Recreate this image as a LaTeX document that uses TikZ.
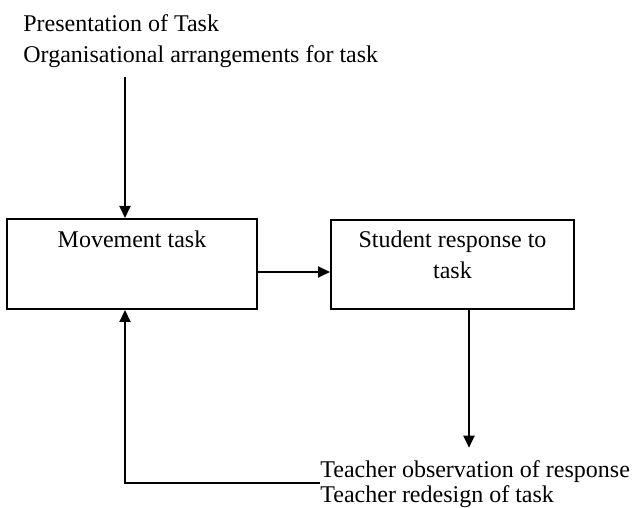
\documentclass[tikz,border=0pt]{standalone}
\usepackage{fontspec}
\setmainfont{Liberation Serif}
\usetikzlibrary{arrows.meta,positioning}

\begin{document}
\begin{tikzpicture}[
  x=0.5pt,y=-0.5pt,
  every node/.style={font=\fontsize{12pt}{15.5pt}\selectfont},
  box/.style={draw,line width=1pt,inner xsep=0pt,inner ysep=0pt,align=center},
  txt/.style={align=left,inner sep=0pt},
  arr/.style={-{Triangle[length=6pt,width=5.5pt]},line width=1pt}
]
  \useasboundingbox (0,0) rectangle (639,508);
  \coordinate (inx) at (125,0);
  \coordinate (outx) at (469,0);
  \coordinate (midy) at (0,272);
  \coordinate (backy) at (0,483);
  \node[txt,anchor=base west] (setup) at (23,63) {Presentation of Task\\Organisational arrangements for task};
  \node[box,minimum width=125pt,text height=14.5pt,text depth=30.5pt,anchor=north] (move) at (132,218) {Movement task};
  \node[box,minimum width=121.5pt,text height=29.5pt,text depth=15pt,anchor=north] (resp) at (452.5,219) {Student response to\\task};
  \node[txt,font=\fontsize{12pt}{13pt}\selectfont,anchor=base west] (teach) at (320,503) {Teacher observation of response\\Teacher redesign of task};
  \draw[arr] ([yshift=-4pt]setup.south -| inx) -- (move.north -| inx);
  \draw[arr] (move.east |- midy) -- (resp.west |- midy);
  \draw[arr] (resp.south -| outx) -- ([yshift=6pt]teach.north -| outx);
  \draw[arr] (teach.west |- backy) -| (move.south -| inx);
\end{tikzpicture}
\end{document}
